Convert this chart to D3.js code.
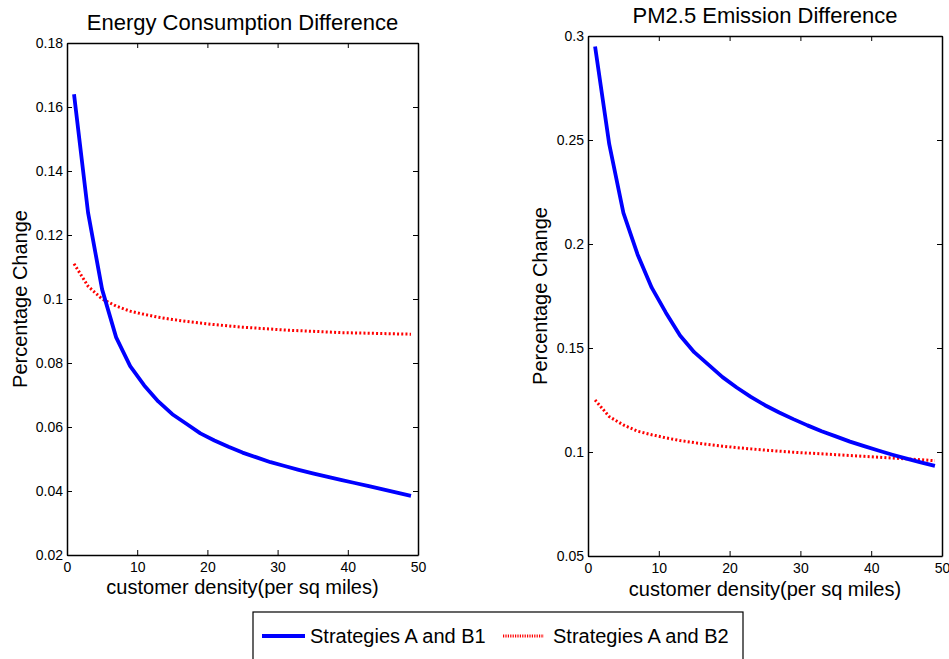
<!DOCTYPE html>
<html>
<head>
<meta charset="utf-8">
<script src="https://cdn.jsdelivr.net/npm/d3@7"></script>
<style>
  body { margin: 0; background: #fff; }
  svg { display: block; font-family: "Liberation Sans", Arial, sans-serif; }
</style>
</head>
<body>
<svg id="chart" width="949" height="659"></svg>
<script>
// ---- data ----
const density = [1,3,5,7,9,11,13,15,17,19,21,23,25,27,29,31,33,35,37,39,41,43,45,47,49];

const energyB1 = [0.164,0.127,0.103,0.088,0.079,0.073,0.068,0.064,0.061,0.058,0.0558,0.0538,0.052,0.0505,0.049,0.0478,0.0466,0.0455,0.0445,0.0435,0.0425,0.0415,0.0405,0.0395,0.0385];
const energyB2 = [0.111,0.104,0.100,0.0978,0.0962,0.0952,0.0943,0.0936,0.093,0.0925,0.092,0.0916,0.0912,0.0909,0.0906,0.0903,0.0901,0.0899,0.0897,0.0895,0.0894,0.0893,0.0892,0.0891,0.089];

const pmB1 = [0.295,0.248,0.215,0.195,0.179,0.167,0.156,0.148,0.142,0.136,0.131,0.1265,0.1225,0.119,0.1158,0.1128,0.110,0.1075,0.105,0.1028,0.1007,0.0987,0.0968,0.095,0.0933];
const pmB2 = [0.125,0.117,0.113,0.110,0.1083,0.1068,0.1055,0.1045,0.1036,0.1028,0.1021,0.1015,0.1009,0.1004,0.0999,0.0995,0.0991,0.0987,0.0983,0.0979,0.0975,0.0971,0.0967,0.0963,0.0958];

const xTicks = [0,10,20,30,40,50];
const energyTicks = [0.02,0.04,0.06,0.08,0.1,0.12,0.14,0.16,0.18];
const pmTicks = [0.05,0.1,0.15,0.2,0.25,0.3];

const seriesNames = ["Strategies A and B1", "Strategies A and B2"];
const titles = ["Energy Consumption Difference", "PM2.5 Emission Difference"];
const xLabel = "customer density(per sq miles)";
const yLabel = "Percentage Change";

// ---- drawing ----
const svg = d3.select("#chart");

function panel(cfg) {
  const { left, right, top, bottom, yDomain, yTicks, b1, b2, title, titleY, xLabY, yLabX } = cfg;
  const x = d3.scaleLinear().domain([0, 50]).range([left, right]);
  const y = d3.scaleLinear().domain(yDomain).range([bottom, top]);
  const g = svg.append("g");
  const fmt = d => String(+d.toFixed(2));

  // axes with inward ticks (box style)
  const axB = d3.axisBottom(x).tickValues(xTicks).tickSizeInner(-5).tickSizeOuter(0).tickPadding(7).tickFormat(d => d);
  const axT = d3.axisTop(x).tickValues(xTicks).tickSizeInner(-5).tickSizeOuter(0).tickFormat("");
  const axL = d3.axisLeft(y).tickValues(yTicks).tickSizeInner(-5).tickSizeOuter(0).tickPadding(4).tickFormat(fmt);
  const axR = d3.axisRight(y).tickValues(yTicks).tickSizeInner(-5).tickSizeOuter(0).tickFormat("");

  const gB = g.append("g").attr("transform", `translate(0,${bottom})`).call(axB);
  const gT = g.append("g").attr("transform", `translate(0,${top})`).call(axT);
  const gL = g.append("g").attr("transform", `translate(${left},0)`).call(axL);
  const gR = g.append("g").attr("transform", `translate(${right},0)`).call(axR);
  [gB, gT, gL, gR].forEach(a => {
    a.select(".domain").attr("stroke", "#000").attr("stroke-width", 1.5);
    a.selectAll(".tick line").attr("stroke", "#000").attr("stroke-width", 1);
    a.selectAll("text").attr("font-size", 14).attr("fill", "#000").attr("font-family", "Liberation Sans, Arial, sans-serif");
  });

  const line = d3.line().x((d, i) => x(density[i])).y(d => y(d));

  g.append("path").datum(b2).attr("d", line)
    .attr("fill", "none").attr("stroke", "#ff0000").attr("stroke-width", 3)
    .attr("stroke-dasharray", "2,2.2");
  g.append("path").datum(b1).attr("d", line)
    .attr("fill", "none").attr("stroke", "#0000ff").attr("stroke-width", 3.8)
    .attr("stroke-linejoin", "round");

  g.append("text").attr("x", (left + right) / 2).attr("y", titleY)
    .attr("text-anchor", "middle").attr("font-size", 22).text(title);
  g.append("text").attr("x", (left + right) / 2).attr("y", xLabY)
    .attr("text-anchor", "middle").attr("font-size", 20).text(xLabel);
  g.append("text").attr("transform", `translate(${yLabX},${(top + bottom) / 2}) rotate(-90)`)
    .attr("text-anchor", "middle").attr("font-size", 20).text(yLabel);
}

panel({ left: 67, right: 418, top: 43, bottom: 555, yDomain: [0.02, 0.18], yTicks: energyTicks,
        b1: energyB1, b2: energyB2, title: titles[0], titleY: 30, xLabY: 594, yLabX: 27 });
panel({ left: 588, right: 942, top: 36, bottom: 556, yDomain: [0.05, 0.3], yTicks: pmTicks,
        b1: pmB1, b2: pmB2, title: titles[1], titleY: 23, xLabY: 596, yLabX: 547 });

// legend
const lg = svg.append("g");
lg.append("rect").attr("x", 253).attr("y", 612).attr("width", 490).attr("height", 60)
  .attr("fill", "#fff").attr("stroke", "#000").attr("stroke-width", 1.2);
lg.append("line").attr("x1", 262).attr("x2", 305).attr("y1", 636).attr("y2", 636)
  .attr("stroke", "#0000ff").attr("stroke-width", 3.8);
lg.append("text").attr("x", 310).attr("y", 643).attr("font-size", 20).text(seriesNames[0]);
lg.append("line").attr("x1", 503).attr("x2", 544).attr("y1", 636).attr("y2", 636)
  .attr("stroke", "#ff0000").attr("stroke-width", 3).attr("stroke-dasharray", "1.2,1.2");
lg.append("text").attr("x", 553).attr("y", 643).attr("font-size", 20).text(seriesNames[1]);
</script>
</body>
</html>
